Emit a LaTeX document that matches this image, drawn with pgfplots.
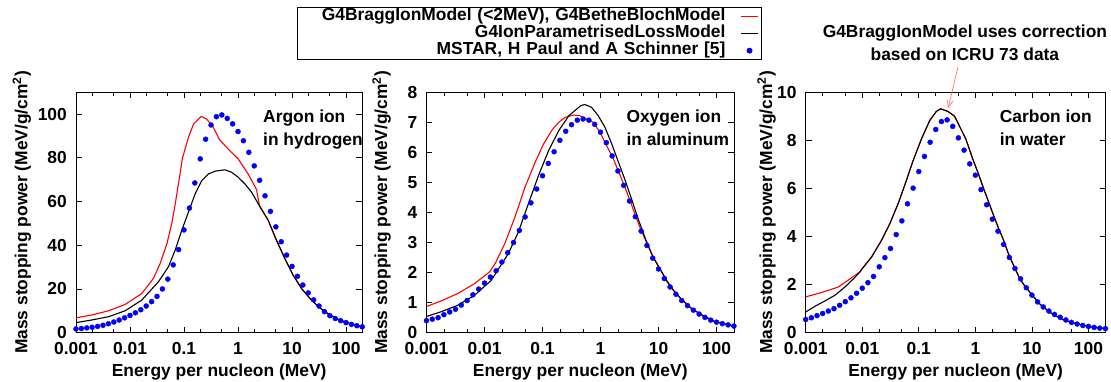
\documentclass[border=0pt]{standalone}
\usepackage{fontspec}
\setmainfont{Liberation Sans}
\usepackage{pgfplots}
\usepackage{pgfplotstable}
\pgfplotsset{compat=1.18}
\usetikzlibrary{arrows.meta}

% MSTAR (H Paul and A Schinner): E [MeV/u], Ar in H, O in Al, C in water
\pgfplotstableread{
E ar ox ca
0.001 1.7 0.40 0.55
0.001259 1.9 0.45 0.62
0.001585 2.2 0.50 0.71
0.001995 2.5 0.60 0.80
0.002512 2.9 0.69 0.90
0.003162 3.4 0.78 1.00
0.003981 4.1 0.92 1.14
0.005012 4.9 1.07 1.29
0.00631 5.8 1.26 1.45
0.007943 6.8 1.45 1.64
0.01 7.9 1.65 1.85
0.01259 9.1 1.85 2.08
0.01585 10.5 2.06 2.34
0.01995 12.2 2.35 2.74
0.02512 14.2 2.66 3.12
0.03162 16.6 3.00 3.50
0.03981 20.0 3.40 4.08
0.05012 24.5 3.85 4.65
0.0631 31.0 4.32 5.36
0.07943 38.0 4.78 6.01
0.1 47.0 5.22 6.70
0.1259 57.0 5.63 7.33
0.1585 68.5 6.02 7.92
0.1995 79.5 6.40 8.45
0.2512 88.5 6.70 8.78
0.3162 95.0 6.92 8.85
0.3981 98.8 7.07 8.58
0.5012 99.6 7.11 8.10
0.631 98.0 7.07 7.59
0.7943 95.5 6.93 7.02
1 92.0 6.67 6.55
1.259 87.8 6.32 5.95
1.585 82.5 5.88 5.32
1.995 76.3 5.38 4.72
2.512 69.7 4.90 4.22
3.162 62.6 4.38 3.67
3.981 55.5 3.86 3.13
5.012 48.4 3.38 2.67
6.31 41.6 2.90 2.24
7.943 35.5 2.48 1.87
10 30.3 2.12 1.56
12.59 25.8 1.80 1.28
15.85 21.8 1.52 1.07
19.95 18.2 1.28 0.90
25.12 15.0 1.07 0.76
31.62 12.2 0.90 0.64
39.81 9.6 0.75 0.53
50.12 7.8 0.62 0.43
63.1 6.5 0.51 0.36
79.43 5.5 0.42 0.30
100 4.6 0.35 0.26
125.9 3.8 0.30 0.22
158.5 3.2 0.26 0.19
199.5 2.7 0.22 0.17
}\mstar

\begin{document}
\fontsize{17.4pt}{17.4pt}\selectfont\bfseries
\begin{tikzpicture}
\path[use as bounding box] (0,0) rectangle (1111pt,382pt);

% ---------- Panel 1: Argon ion in hydrogen ----------
\begin{axis}[at={(76pt,49.3pt)}, anchor=south west,
  scale only axis, width=286.3pt, height=240.5pt,
  xmode=log, xmin=0.001, xmax=200, ymin=0, ymax=110,
  clip=false, axis line style={line width=0.9pt},
  tick align=inside, tick style={black, line width=0.8pt},
  major tick length=6pt, minor tick length=3.5pt,
  xtick={0.001,0.01,0.1,1,10,100},
  xticklabels={0.001,0.01,0.1,1,10,100},
  minor xtick={0.002,0.005,0.02,0.05,0.2,0.5,2,5,20,50},
  ytick={0,20,40,60,80,100},
  /pgf/number format/assume math mode=true,
  xticklabel style={anchor=north, inner sep=0pt, yshift=-9.3pt},
  yticklabel style={anchor=east, inner sep=0pt, xshift=-9pt},
  xlabel={Energy per nucleon (MeV)},
  xlabel style={at={(axis description cs:0.5,0)}, anchor=base, yshift=-44.3pt},
  ylabel={Mass stopping power (MeV/g/cm\textsuperscript{2})},
  ylabel style={at={(axis description cs:-0.1694,0.5)}, anchor=base},
  legend plot pos=right, legend cell align=right,
  legend style={at={(axis description cs:0.7719,1.3543)}, anchor=north west,
    draw=black, line width=0.9pt, inner xsep=3pt, inner ysep=1pt,
    column sep=15pt, row sep=0.5pt,
    nodes={inner sep=0pt, text width=425pt, align=right, text height=12.5pt, text depth=4pt}},
]
\addplot[color=red, line width=1.1pt, mark=none] table {
0.001 6.8
0.00195 8.1
0.00397 10.0
0.00809 12.9
0.0165 17.9
0.0271 24.8
0.0361 31.6
0.048 40.5
0.0594 50.0
0.0684 58.5
0.0811 70.0
0.0935 79.8
0.121 89.4
0.150 95.4
0.2075 98.9
0.264 97.7
0.351 93.9
0.448 88.5
0.656 84.0
1.006 79.5
1.54 72.6
2.2 65.5
2.5 58.0
3.62 51.4
5.17 42.2
7.37 33.9
10.5 26.3
15.0 20.2
21.4 15.7
30.6 11.9
46.9 8.6
71.8 6.0
126.8 4.0
200 2.7
};
\addlegendentry{G4BraggIonModel (<2MeV), G4BetheBlochModel}
\addplot[color=black, line width=1.1pt, mark=none] table {
0.001 4.6
0.00195 5.8
0.00397 7.3
0.00809 10.0
0.0165 14.9
0.0336 23.3
0.0514 30.1
0.0684 37.7
0.0909 46.8
0.1208 55.2
0.1607 63.5
0.2134 69.6
0.2836 72.6
0.3769 73.9
0.570 74.5
0.757 73.4
1.006 71.1
1.337 68.1
1.777 64.3
2.5 58.0
3.62 51.4
5.17 42.2
7.37 33.9
10.5 26.3
15.0 20.2
21.4 15.7
30.6 11.9
46.9 8.6
71.8 6.0
126.8 4.0
200 2.7
};
\addlegendentry{G4IonParametrisedLossModel}
\addplot[only marks, mark=*, mark size=2.5pt, color=blue, mark options={draw=blue, fill=blue}] table[x=E, y=ar] {\mstar};
\addlegendentry{MSTAR, H Paul and A Schinner [5]}
\node[anchor=base west, inner sep=0pt] at (rel axis cs:0.6532,0.8748) {Argon ion};
\node[anchor=base west, inner sep=0pt] at (rel axis cs:0.6532,0.7775) {in hydrogen};
\end{axis}

% ---------- Panel 2: Oxygen ion in aluminum ----------
\begin{axis}[at={(426.5pt,49.3pt)}, anchor=south west,
  scale only axis, width=307.5pt, height=240.5pt,
  xmode=log, xmin=0.001, xmax=200, ymin=0, ymax=8,
  clip=false, axis line style={line width=0.9pt},
  tick align=inside, tick style={black, line width=0.8pt},
  major tick length=6pt, minor tick length=3.5pt,
  xtick={0.001,0.01,0.1,1,10,100},
  xticklabels={0.001,0.01,0.1,1,10,100},
  minor xtick={0.002,0.005,0.02,0.05,0.2,0.5,2,5,20,50},
  ytick={0,1,2,3,4,5,6,7,8},
  /pgf/number format/assume math mode=true,
  xticklabel style={anchor=north, inner sep=0pt, yshift=-9.3pt},
  yticklabel style={anchor=east, inner sep=0pt, xshift=-9pt},
  xlabel={Energy per nucleon (MeV)},
  xlabel style={at={(axis description cs:0.5,0)}, anchor=base, yshift=-44.3pt},
  ylabel={Mass stopping power (MeV/g/cm\textsuperscript{2})},
  ylabel style={at={(axis description cs:-0.1278,0.5)}, anchor=base},
]
\addplot[color=red, line width=1.1pt, mark=none] table {
0.001 0.87
0.00175 1.05
0.00343 1.30
0.00669 1.63
0.01222 2.02
0.01535 2.31
0.02233 2.96
0.0334 3.84
0.0499 4.84
0.0746 5.67
0.1043 6.28
0.1458 6.74
0.1905 7.00
0.2489 7.17
0.348 7.24
0.4365 7.22
0.746 7.00
0.977 6.67
1.276 6.22
1.668 5.78
2.18 5.23
2.85 4.67
3.73 4.06
4.87 3.46
6.37 2.96
8.33 2.46
10.9 2.07
14.2 1.68
18.6 1.38
24.3 1.13
36.3 0.82
54.3 0.60
92.7 0.37
200 0.22
};
\addplot[color=black, line width=1.1pt, mark=none] table {
0.001 0.54
0.00175 0.69
0.00343 0.91
0.00669 1.24
0.01306 1.74
0.02553 2.62
0.0382 3.34
0.0571 4.29
0.0853 5.23
0.1274 6.06
0.1905 6.72
0.2845 7.22
0.455 7.55
0.534 7.59
0.698 7.50
0.912 7.22
1.194 6.83
1.560 6.28
2.04 5.67
2.67 5.06
3.49 4.40
4.56 3.73
5.96 3.12
7.79 2.57
10.2 2.18
14.2 1.70
18.6 1.38
24.3 1.13
36.3 0.82
54.3 0.60
92.7 0.37
200 0.22
};
\addplot[only marks, mark=*, mark size=2.5pt, color=blue, mark options={draw=blue, fill=blue}] table[x=E, y=ox] {\mstar};
\node[anchor=base west, inner sep=0pt] at (rel axis cs:0.6498,0.8748) {Oxygen ion};
\node[anchor=base west, inner sep=0pt] at (rel axis cs:0.6498,0.7775) {in aluminum};
\end{axis}

% ---------- Panel 3: Carbon ion in water ----------
\begin{axis}[at={(805.7pt,49.3pt)}, anchor=south west,
  scale only axis, width=299.8pt, height=240.5pt,
  xmode=log, xmin=0.001, xmax=200, ymin=0, ymax=10,
  clip=false, axis line style={line width=0.9pt},
  tick align=inside, tick style={black, line width=0.8pt},
  major tick length=6pt, minor tick length=3.5pt,
  xtick={0.001,0.01,0.1,1,10,100},
  xticklabels={0.001,0.01,0.1,1,10,100},
  minor xtick={0.002,0.005,0.02,0.05,0.2,0.5,2,5,20,50},
  ytick={0,2,4,6,8,10},
  /pgf/number format/assume math mode=true,
  xticklabel style={anchor=north, inner sep=0pt, yshift=-9.3pt},
  yticklabel style={anchor=east, inner sep=0pt, xshift=-9pt},
  xlabel={Energy per nucleon (MeV)},
  xlabel style={at={(axis description cs:0.5,0)}, anchor=base, yshift=-44.3pt},
  ylabel={Mass stopping power (MeV/g/cm\textsuperscript{2})},
  ylabel style={at={(axis description cs:-0.1117,0.5)}, anchor=base},
]
\addplot[color=red, line width=1.1pt, mark=none] table {
0.001 1.49
0.00191 1.67
0.00377 1.90
0.00743 2.38
0.0091 2.53
0.00975 2.63
0.01463 3.15
0.022 3.85
0.0308 4.54
0.0433 5.38
0.0567 6.15
0.0791 7.15
0.111 8.05
0.1556 8.82
0.204 9.2
0.243 9.31
0.327 9.2
0.429 9.0
0.52 8.6
0.68 8.05
0.89 7.25
1.14 6.59
1.36 6.07
1.62 5.59
2.09 4.89
2.57 4.34
3.10 3.89
3.90 3.24
4.78 2.78
6.02 2.27
7.38 1.96
9.42 1.65
14.1 1.17
22.3 0.80
34.9 0.55
50 0.43
100 0.26
200 0.17
};
\addplot[color=black, line width=1.1pt, mark=none] table {
0.001 0.86
0.00146 1.10
0.00219 1.32
0.0033 1.56
0.00494 1.90
0.00743 2.30
0.0091 2.53
0.00975 2.63
0.01463 3.15
0.022 3.85
0.0308 4.54
0.0433 5.38
0.0567 6.15
0.0791 7.15
0.111 8.05
0.1556 8.82
0.204 9.2
0.243 9.31
0.327 9.2
0.429 9.0
0.52 8.6
0.68 8.05
0.89 7.25
1.14 6.59
1.36 6.07
1.62 5.59
2.09 4.89
2.57 4.34
3.10 3.89
3.90 3.24
4.78 2.78
6.02 2.27
7.38 1.96
9.42 1.65
14.1 1.17
22.3 0.80
34.9 0.55
50 0.43
100 0.26
200 0.17
};
\addplot[only marks, mark=*, mark size=2.5pt, color=blue, mark options={draw=blue, fill=blue}] table[x=E, y=ca] {\mstar};
\node[anchor=base west, inner sep=0pt] at (rel axis cs:0.6471,0.8748) {Carbon ion};
\node[anchor=base west, inner sep=0pt] at (rel axis cs:0.6471,0.7775) {in water};
\node[anchor=base, inner sep=0pt] at (rel axis cs:0.531,1.2283) {G4BraggIonModel uses correction};
\node[anchor=base, inner sep=0pt] at (rel axis cs:0.531,1.1310) {based on ICRU 73 data};
\draw[red!55, line width=0.7pt, -{Straight Barb[length=7pt,width=6pt]}] (rel axis cs:0.508,1.105) -- (axis cs:0.33,9.34);
\end{axis}
\end{tikzpicture}
\end{document}
